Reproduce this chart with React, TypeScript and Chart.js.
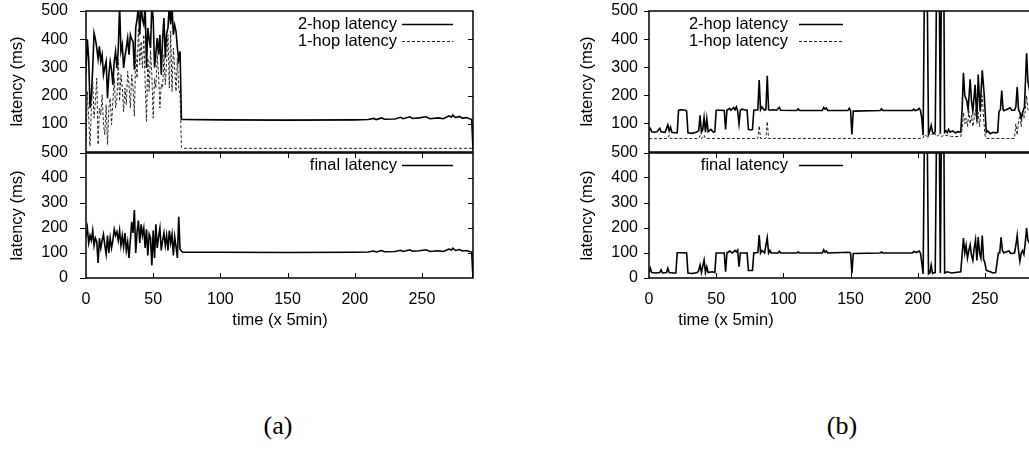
import React, { useEffect, useRef } from 'react';
import { Chart, registerables } from 'chart.js';
Chart.register(...registerables);

// ---------------- data ----------------
const X_TICKS = [0, 50, 100, 150, 200, 250];
const Y_TICKS_TOP = [100, 200, 300, 400, 500];
const Y_TICKS_BOTTOM = [0, 100, 200, 300, 400, 500];
const X_MAX = 288;
const Y_MAX = 500;

// Panel (a)
const A_TWO_HOP_T = [0,1,2,3,4,5,6,7,8,9,10,11,12,13,14,15,16,17,18,19,20,21,22,23,24,25,26,27,28,29,30,31,32,33,34,35,36,37,38,39,40,41,42,43,44,45,46,47,48,49,50,51,52,53,54,55,56,57,58,59,60,61,62,63,64,65,66,67,68,69,70,71,
  72,100,150,200,210,214,216,220,222,230,234,236,241,243,248,253,256,262,266,270,272,273,275,278,280,283,286,287,288];
const A_TWO_HOP_V = [280,400,330,156,200,298,422,400,369,330,375,321,345,274,300,321,191,274,321,290,239,321,357,298,360,520,357,381,298,340,369,404,345,416,400,392,292,440,470,520,416,520,470,452,520,298,440,400,369,520,475,300,350,404,345,416,274,400,475,333,420,440,520,452,520,416,450,428,369,327,357,115,
  115,114,113,114,115,119,115,121,116,117,123,118,125,119,121,125,118,121,118,128,124,131,122,126,120,122,117,116,10];

const A_ONE_HOP_T = [0,1,2,3,4,5,6,7,8,9,10,11,12,13,14,15,16,17,18,19,20,21,22,23,24,25,26,27,28,29,30,31,32,33,34,35,36,37,38,39,40,41,42,43,44,45,46,47,48,49,50,51,52,53,54,55,56,57,58,59,60,61,62,63,64,65,66,67,68,69,70,71,
  72,288];
const A_ONE_HOP_V = [38,215,120,20,156,251,120,180,262,26,156,132,203,97,61,168,26,156,191,97,180,262,156,191,330,180,274,227,144,227,168,286,239,156,274,227,127,357,262,440,310,392,298,416,251,109,333,215,360,274,120,260,227,345,274,156,240,227,345,239,321,416,227,428,215,369,298,215,333,227,203,16,
  13,13];

const A_FINAL_T = [0,1,2,3,4,5,6,7,8,9,10,11,12,13,14,15,16,17,18,19,20,21,22,23,24,25,26,27,28,29,30,31,32,33,34,35,36,37,38,39,40,41,42,43,44,45,46,47,48,49,50,51,52,53,54,55,56,57,58,59,60,61,62,63,64,65,66,67,68,69,70,71,72,
  100,150,200,210,214,216,220,222,230,234,236,241,243,248,253,256,262,266,270,272,273,275,278,280,283,286,287,288];
const A_FINAL_V = [165,200,140,170,150,190,130,160,145,60,160,120,150,175,130,95,170,100,160,120,150,195,170,185,150,190,130,170,125,180,110,145,80,150,225,180,272,100,185,230,140,215,170,200,120,195,90,175,160,50,190,80,215,120,165,200,110,150,180,130,170,110,190,140,175,90,165,125,80,245,115,108,103,
  103,102,103,104,108,104,110,105,106,111,106,113,107,109,113,106,109,106,116,112,119,110,114,108,110,105,104,0];

// Panel (b)
const B_TWO_HOP_T = [0,1,2,4,6,8,9,12,14,15,16,17,19,21,22,24,27,28,29,32,35,37,38,39,40,41,42,43,44,46,48,49,50,53,56,57,58,60,61,63,64,65,66,67,68,69,71,73,74,76,77,78,81,82,83,84,86,87,88,89,90,92,95,97,98,110,111,112,129,130,131,132,133,148,149,150,151,152,172,173,174,196,197,198,200,201,202,203,204,205,207,208,209,210,211,212,213,214,216,216.8,217.6,219.4,220,221,222,223,224,226,228,230,232,233,234,235,236.5,237.5,239,240,241,242.7,244,245,246.4,248,249.5,251,252,254,256,258,259.5,260.5,261.5,262.5,263.5,264,266,268.7,270,272,273,274,275,276,277,278,279.4,281,282,284,288];
const B_TWO_HOP_V = [80,84,72,70,72,84,72,70,96,75,88,70,68,68,148,150,148,145,68,66,70,75,130,70,80,122,70,118,72,80,70,72,148,148,147,80,148,155,148,158,150,160,145,100,148,152,150,148,80,78,80,148,150,255,150,160,148,150,270,150,148,150,148,158,148,147,153,147,147,158,152,156,147,147,155,147,62,145,147,153,147,147,152,147,150,155,148,120,60,600,600,62,75,95,70,65,72,600,600,65,600,600,70,75,68,80,70,75,68,72,70,150,281,200,182,150,258,180,145,238,110,275,145,290,200,70,75,65,70,68,70,145,150,218,150,148,150,157,148,148,160,230,150,140,120,140,160,350,250,200,150];

const B_ONE_HOP_T = [0,14,15,16,37,38,39,41,42,81,82,83,87,88,89,203,204,205,207,208,210,212,214,216,218,220,225,232,233,234,235,236,237,238,239,240,241,242,243,244,245,246,247,248,249,250,251,272,273,274,275,276,277,278,279,280,281,282,288];
const B_ONE_HOP_V = [47,48,60,48,48,58,48,60,48,48,93,48,48,108,48,48,50,62,55,66,58,72,55,62,55,60,55,55,80,140,100,120,90,145,100,130,90,120,150,100,140,90,150,200,120,60,48,48,100,60,110,130,90,140,120,145,200,150,100];

const B_FINAL_T = [0,1,2,5,8,9,10,13,14,15,18,20,21,24,28,29,32,36,37,38,39,41,42,43,44,47,49,50,53,56,57,58,60,62,64,65,66,67,68,71,73,74,77,78,81,82,83,84,86,88,89,90,91,96,97,98,110,111,112,129,130,131,132,133,149,150,151,152,172,173,174,196,197,199,201,202,203,204,205,207,208,209,210,211,213,214,216,216.8,217.6,219.4,220,222,225,228,232,234,235,236,237,238,239,240,241,242,243,244,245,246,247,248,249,250,251,254,256,258,260,261,262,263,264,266,268,269,270,272,273,274,275,276,277,278,279,280,281,282,284,288];
const B_FINAL_V = [22,39,22,20,22,33,20,22,39,22,20,20,101,101,100,20,18,22,30,52,22,72,22,45,22,25,22,100,100,100,25,100,108,100,110,104,112,45,100,100,100,30,30,100,102,172,100,110,100,161,100,110,100,100,107,100,100,105,100,100,113,103,108,100,103,100,19,98,100,104,100,100,106,102,108,100,60,16,600,600,16,20,52,18,22,600,600,20,600,600,20,25,20,22,25,160,100,130,80,110,133,90,70,120,153,70,164,100,80,170,75,60,30,25,20,22,100,100,163,110,100,105,108,100,98,100,130,171,110,67,100,110,95,140,200,150,130,120];

const LBL_TWO = '2-hop latency';
const LBL_ONE = '1-hop latency';
const LBL_FINAL = 'final latency';
const Y_TITLE = 'latency (ms)';
const X_TITLE = 'time (x 5min)';

// ---------------- drawing helpers ----------------
const FONT_FAMILY = '"Liberation Sans", Arial, Helvetica, sans-serif';
const FONT_SIZE = 16;
const LABEL_SIZE = 16.5;

type Pt = { x: number; y: number };
const pts = (t: number[], v: number[]): Pt[] => t.map((x, i) => ({ x, y: v[i] }));

const framePlugin = {
  id: 'frame',
  afterDraw(chart: any, _args: any, o: any) {
    const { ctx, chartArea: a } = chart;
    const xs = chart.scales.x;
    const ys = chart.scales.y;
    ctx.save();
    ctx.strokeStyle = '#000';
    ctx.lineWidth = 1.5;
    ctx.strokeRect(a.left, a.top, a.right - a.left, a.bottom - a.top);
    ctx.lineWidth = 1;
    ctx.beginPath();
    for (const v of o.rightTicks) {
      const y = Math.round(ys.getPixelForValue(v)) + 0.5;
      ctx.moveTo(a.right, y);
      ctx.lineTo(a.right - 5, y);
    }
    for (const v of o.xTicks) {
      const x = Math.round(xs.getPixelForValue(v)) + 0.5;
      ctx.moveTo(x, a.bottom);
      ctx.lineTo(x, a.bottom - 5);
      ctx.moveTo(x, a.top);
      ctx.lineTo(x, a.top + 5);
    }
    ctx.stroke();

    ctx.font = `${LABEL_SIZE}px ${FONT_FAMILY}`;
    ctx.fillStyle = '#000';
    ctx.textBaseline = 'middle';
    o.legend.forEach((it: any, i: number) => {
      const y = o.legendY + i * 17;
      ctx.textAlign = 'right';
      ctx.fillText(it.label, o.legendTextRight, y);
      ctx.setLineDash(it.dash);
      ctx.lineWidth = it.width;
      ctx.strokeStyle = it.color;
      ctx.beginPath();
      ctx.moveTo(o.legendLine[0], y + 0.5);
      ctx.lineTo(o.legendLine[1], y + 0.5);
      ctx.stroke();
      ctx.setLineDash([]);
    });

    ctx.save();
    ctx.translate(o.yTitleX, (a.top + a.bottom) / 2);
    ctx.rotate(-Math.PI / 2);
    ctx.textAlign = 'center';
    ctx.fillText(Y_TITLE, 0, 0);
    ctx.restore();

    if (o.xTitle) {
      ctx.textAlign = 'center';
      ctx.fillText(X_TITLE, o.xTitle[0], o.xTitle[1]);
    }
    ctx.restore();
  },
};

interface Series { label: string; t: number[]; v: number[]; dash: number[]; width: number; color: string }
interface SubCfg {
  series: Series[];
  yTicks: number[];
  showX: boolean;
  yWidth: number;
  yTickLen: number;
  yPad: number;
  padding: { left: number; top: number; right: number; bottom: number };
  xHeight: number;
  frame: any;
}

function makeConfig(p: SubCfg): any {
  const font = { family: FONT_FAMILY, size: FONT_SIZE };
  return {
    type: 'line',
    data: {
      datasets: p.series.map((s) => ({
        label: s.label,
        data: pts(s.t, s.v),
        borderColor: s.color,
        borderWidth: s.width,
        borderDash: s.dash,
        pointRadius: 0,
        tension: 0,
        fill: false,
        clip: 0,
      })),
    },
    options: {
      responsive: false,
      animation: false,
      devicePixelRatio: 1,
      layout: { padding: p.padding },
      plugins: { legend: { display: false }, tooltip: { enabled: false }, frame: p.frame },
      scales: {
        x: {
          type: 'linear',
          min: 0,
          max: X_MAX,
          display: p.showX,
          afterBuildTicks: (s: any) => { s.ticks = X_TICKS.map((v) => ({ value: v })); },
          afterFit: (s: any) => { s.height = p.xHeight; s.paddingLeft = 0; s.paddingRight = 0; },
          grid: { display: false },
          border: { display: false },
          ticks: { font, color: '#000', padding: 4, maxRotation: 0, autoSkip: false },
        },
        y: {
          type: 'linear',
          min: 0,
          max: Y_MAX,
          afterBuildTicks: (s: any) => { s.ticks = p.yTicks.map((v) => ({ value: v })); },
          afterFit: (s: any) => { s.width = p.yWidth; s.paddingTop = 0; s.paddingBottom = 0; },
          grid: { drawOnChartArea: false, drawTicks: true, tickLength: p.yTickLen, color: '#000', lineWidth: 1 },
          border: { display: false },
          ticks: { font, color: '#000', padding: p.yPad, autoSkip: false },
        },
      },
    },
    plugins: [framePlugin],
  };
}

function Sub({ cfg, left, top, width, height }: { cfg: SubCfg; left: number; top: number; width: number; height: number }) {
  const ref = useRef<HTMLCanvasElement>(null);
  useEffect(() => {
    const ch = new Chart(ref.current as HTMLCanvasElement, makeConfig(cfg));
    return () => ch.destroy();
  }, []);
  return (
    <canvas
      ref={ref}
      width={width}
      height={height}
      style={{ position: 'absolute', left, top, width, height }}
    />
  );
}

const SOLID = { dash: [] as number[], width: 1.6, color: '#000' };
const DASHED = { dash: [3, 2], width: 1, color: '#222' };

const aTop: SubCfg = {
  series: [
    { label: LBL_ONE, t: A_ONE_HOP_T, v: A_ONE_HOP_V, ...DASHED },
    { label: LBL_TWO, t: A_TWO_HOP_T, v: A_TWO_HOP_V, ...SOLID },
  ],
  yTicks: Y_TICKS_TOP, showX: false, yWidth: 86, yTickLen: 6, yPad: 12,
  padding: { left: 0, top: 11, right: 7, bottom: 1 }, xHeight: 0,
  frame: {
    rightTicks: [100, 200, 300, 400], xTicks: [],
    legend: [{ label: LBL_TWO, ...SOLID }, { label: LBL_ONE, ...DASHED }],
    legendY: 24, legendTextRight: 397, legendLine: [402, 453], yTitleX: 17, xTitle: null,
  },
};
const aBot: SubCfg = {
  series: [{ label: LBL_FINAL, t: A_FINAL_T, v: A_FINAL_V, ...SOLID }],
  yTicks: Y_TICKS_BOTTOM, showX: true, yWidth: 86, yTickLen: 6, yPad: 12,
  padding: { left: 0, top: 13, right: 7, bottom: 22 }, xHeight: 40,
  frame: {
    rightTicks: [100, 200, 300, 400], xTicks: [50, 100, 150, 200, 250],
    legend: [{ label: LBL_FINAL, ...SOLID }],
    legendY: 25, legendTextRight: 397, legendLine: [402, 453], yTitleX: 17, xTitle: [280, 180],
  },
};
const bTop: SubCfg = {
  series: [
    { label: LBL_ONE, t: B_ONE_HOP_T, v: B_ONE_HOP_V, ...DASHED },
    { label: LBL_TWO, t: B_TWO_HOP_T, v: B_TWO_HOP_V, ...SOLID },
  ],
  yTicks: Y_TICKS_TOP, showX: false, yWidth: 89, yTickLen: 5, yPad: 6,
  padding: { left: 0, top: 11, right: 14, bottom: 1 }, xHeight: 0,
  frame: {
    rightTicks: [100, 200, 300, 400], xTicks: [],
    legend: [{ label: LBL_TWO, ...SOLID }, { label: LBL_ONE, ...DASHED }],
    legendY: 24, legendTextRight: 228, legendLine: [239, 283], yTitleX: 27, xTitle: null,
  },
};
const bBot: SubCfg = {
  series: [{ label: LBL_FINAL, t: B_FINAL_T, v: B_FINAL_V, ...SOLID }],
  yTicks: Y_TICKS_BOTTOM, showX: true, yWidth: 89, yTickLen: 5, yPad: 6,
  padding: { left: 0, top: 13, right: 14, bottom: 22 }, xHeight: 40,
  frame: {
    rightTicks: [100, 200, 300, 400], xTicks: [50, 100, 150, 200, 250],
    legend: [{ label: LBL_FINAL, ...SOLID }],
    legendY: 25, legendTextRight: 228, legendLine: [239, 283], yTitleX: 27, xTitle: [166, 180],
  },
};

const captionStyle = (cx: number): React.CSSProperties => ({
  position: 'absolute',
  left: cx - 50,
  top: 410,
  width: 100,
  height: 32,
  lineHeight: '32px',
  textAlign: 'center',
  fontFamily: '"Liberation Serif", "Times New Roman", serif',
  fontSize: 26,
  color: '#000',
});

export default function App() {
  return (
    <div style={{ position: 'absolute', left: 0, top: 0, width: 1029, height: 451, overflow: 'hidden', background: '#fff' }}>
      <Sub cfg={aTop} left={0} top={0} width={480} height={153} />
      <Sub cfg={aBot} left={0} top={140} width={480} height={200} />
      <Sub cfg={bTop} left={560} top={0} width={490} height={153} />
      <Sub cfg={bBot} left={560} top={140} width={490} height={200} />
      <div style={captionStyle(278)}>(a)</div>
      <div style={captionStyle(842)}>(b)</div>
    </div>
  );
}
